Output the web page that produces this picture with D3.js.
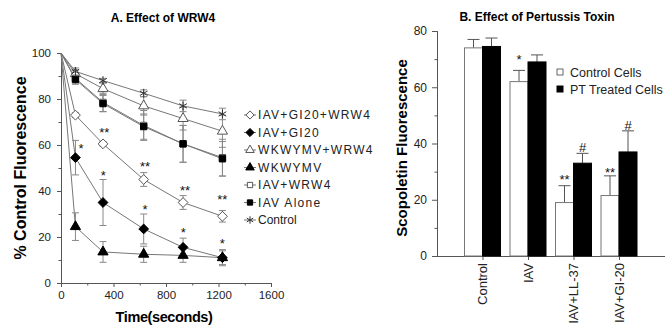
<!DOCTYPE html>
<html>
<head>
<meta charset="utf-8">
<script src="https://cdn.jsdelivr.net/npm/d3@7"></script>
<style>
  body { margin: 0; background: #fff; }
  svg { display: block; font-family: Arial, "Liberation Sans", sans-serif; }
</style>
</head>
<body>
<div id="chart"></div>
<script>
// panel A: time course
const times = [0, 110, 320, 630, 930, 1230]
const seriesNames = ['IAV+GI20+WRW4', 'IAV+GI20', 'WKWYMV+WRW4', 'WKWYMV', 'IAV+WRW4', 'IAV Alone', 'Control']
const gi20Wrw4 = [100, 73, 60.5, 45, 35, 29]
const gi20 = [100, 54.5, 35, 23.5, 15.5, 11]
const wkwymvWrw4 = [100, 91, 84.5, 77, 71.5, 66]
const wkwymv = [100, 24.5, 13.5, 12.5, 12, 11]
const iavWrw4 = [100, 89, 78.5, 68.5, 60.5, 54.5]
const iavAlone = [100, 88.5, 78, 68, 60.5, 54]
const control = [100, 92, 88, 82.5, 77, 73.5]
const gi20Wrw4Err = [0, 1, 1, 3, 3, 2.5]
const gi20Err = [0, 7.5, 10, 6.5, 4, 3.5]
const wkwymvWrw4Err = [0, 1.5, 2.5, 4, 5, 7]
const wkwymvErr = [0, 6, 4.5, 3.5, 3, 3]
const iavWrw4Err = [0, 2.5, 4, 6.5, 8, 8]
const iavAloneErr = [0, 2, 3.5, 5.5, 8, 7.5]
const controlErr = [0, 1.5, 1, 1.5, 2.5, 2.5]
// significance marks: [time, value, text]
const starsA = [[152, 59.6, '*'], [330, 66.5, '**'], [322, 47.7, '*'], [640, 51.6, '**'], [640, 32.9, '*'],
  [945, 41.4, '**'], [932, 23, '*'], [1229, 37.4, '**'], [1229, 18.3, '*']]

// panel B: pertussis toxin
const groups = ['Control', 'IAV', 'IAV+LL-37', 'IAV+GI-20']
const controlCells = [74, 62, 19, 21.5]
const controlCellsErr = [3, 4, 6, 7]
const ptCells = [74.5, 69, 33, 37]
const ptCellsErr = [3, 2.5, 3.5, 7.5]
// [group, bar (0 control / 1 PT), text, value]
const marksB = [[1, 0, '*', 70.8], [2, 0, '**', 28.1], [2, 1, '#', 38.8], [3, 0, '**', 30.6], [3, 1, '#', 46.6]]

const W = 665, H = 331
const svg = d3.select('#chart').append('svg').attr('width', W).attr('height', H)

const axisColor = '#555'
const lineColor = '#777'

function styleAxis (g, fs) {
  g.selectAll('.domain').attr('stroke', axisColor)
  g.selectAll('.tick line').attr('stroke', axisColor)
  g.selectAll('.tick text').attr('fill', '#222').attr('font-size', fs).attr('font-family', 'Arial, "Liberation Sans", sans-serif')
}

// square diamond (rotated square), like the original plotting program
const symbolRhomb = {
  draw (ctx, size) {
    const r = Math.sqrt(size / 2)
    ctx.moveTo(0, -r); ctx.lineTo(r, 0); ctx.lineTo(0, r); ctx.lineTo(-r, 0); ctx.closePath()
  }
}

// ---------- panel A ----------
const xA = d3.scaleLinear().domain([0, 1600]).range([61, 271])
const yA = d3.scaleLinear().domain([0, 100]).range([283, 53])

const gA = svg.append('g')
// minor ticks
gA.append('g').attr('transform', `translate(0,${yA(0)})`)
  .call(d3.axisBottom(xA).tickValues([200, 600, 1000, 1400]).tickSize(2.5).tickFormat(''))
  .call(g => styleAxis(g, 11))
gA.append('g').attr('transform', `translate(${xA(0)},0)`)
  .call(d3.axisLeft(yA).tickValues([10, 30, 50, 70, 90]).tickSize(2.5).tickFormat(''))
  .call(g => styleAxis(g, 11))
gA.append('g').attr('transform', `translate(0,${yA(0)})`)
  .call(d3.axisBottom(xA).tickValues([0, 400, 800, 1200, 1600]).tickFormat(d3.format('d'))
    .tickSize(4).tickPadding(4).tickSizeOuter(0))
  .call(g => styleAxis(g, 11.5))
gA.append('g').attr('transform', `translate(${xA(0)},0)`)
  .call(d3.axisLeft(yA).tickValues([0, 20, 40, 60, 80, 100]).tickSize(4).tickPadding(6).tickSizeOuter(0))
  .call(g => styleAxis(g, 11.5))

const seriesA = [
  { name: seriesNames[0], vals: gi20Wrw4, err: gi20Wrw4Err, type: symbolRhomb, size: 48, fill: '#fff' },
  { name: seriesNames[1], vals: gi20, err: gi20Err, type: symbolRhomb, size: 48, fill: '#000' },
  { name: seriesNames[2], vals: wkwymvWrw4, err: wkwymvWrw4Err, type: d3.symbolTriangle, size: 45, fill: '#fff' },
  { name: seriesNames[3], vals: wkwymv, err: wkwymvErr, type: d3.symbolTriangle, size: 45, fill: '#000' },
  { name: seriesNames[4], vals: iavWrw4, err: iavWrw4Err, type: d3.symbolSquare, size: 40, fill: '#fff' },
  { name: seriesNames[5], vals: iavAlone, err: iavAloneErr, type: d3.symbolSquare, size: 40, fill: '#000' },
  { name: seriesNames[6], vals: control, err: controlErr, type: d3.symbolAsterisk, size: 55, fill: 'none' }
]

const line = d3.line().x(d => xA(d[0])).y(d => yA(d[1]))

// lines first
seriesA.forEach(s => {
  gA.append('path')
    .datum(times.map((t, i) => [t, s.vals[i]]))
    .attr('fill', 'none').attr('stroke', lineColor).attr('stroke-width', 1)
    .attr('d', line)
})
// error bars
seriesA.forEach(s => {
  const eb = gA.append('g').attr('stroke', '#888').attr('stroke-width', 1)
  times.forEach((t, i) => {
    if (!s.err[i]) return
    const x = xA(t), y1 = yA(s.vals[i] + s.err[i]), y2 = yA(s.vals[i] - s.err[i])
    eb.append('line').attr('x1', x).attr('x2', x).attr('y1', y1).attr('y2', y2)
    eb.append('line').attr('x1', x - 3.5).attr('x2', x + 3.5).attr('y1', y1).attr('y2', y1)
    eb.append('line').attr('x1', x - 3.5).attr('x2', x + 3.5).attr('y1', y2).attr('y2', y2)
  })
})
// markers
function drawSymbol (g, s, x, y, scale) {
  const sym = d3.symbol().type(s.type).size(s.size * scale)
  const p = g.append('path').attr('d', sym()).attr('transform', `translate(${x},${y})`)
  if (s.fill === 'none') {
    p.attr('fill', 'none').attr('stroke', '#333').attr('stroke-width', 1)
  } else {
    p.attr('fill', s.fill).attr('stroke', s.fill === '#fff' ? '#555' : '#000').attr('stroke-width', 1)
  }
}
seriesA.forEach(s => {
  times.forEach((t, i) => {
    if (i === 0) return
    drawSymbol(gA, s, xA(t), yA(s.vals[i]), 1)
  })
})
// significance stars
gA.selectAll('.starA').data(starsA).enter().append('text')
  .attr('x', d => xA(d[0])).attr('y', d => yA(d[1]))
  .attr('dy', '0.55em').attr('text-anchor', 'middle')
  .attr('font-size', 13).attr('fill', '#111')
  .text(d => d[2])

// legend A
const legA = gA.append('g')
seriesA.forEach((s, i) => {
  const y = 115 + i * 17.5
  legA.append('line').attr('x1', 244).attr('x2', 256).attr('y1', y).attr('y2', y).attr('stroke', lineColor)
  drawSymbol(legA, s, 250, y, 0.7)
  legA.append('text').attr('x', 258).attr('y', y).attr('dy', '0.36em')
    .attr('font-size', 12).attr('fill', '#222')
    .attr('letter-spacing', s.name === 'Control' ? 0 : 1.3)
    .text(s.name)
})

// titles and labels A
svg.append('text').attr('x', 163).attr('y', 22).attr('text-anchor', 'middle')
  .attr('font-size', 12).attr('font-weight', 'bold').text('A. Effect of WRW4')
svg.append('text').attr('transform', 'translate(26,168) rotate(-90)').attr('text-anchor', 'middle')
  .attr('font-size', 16).attr('font-weight', 'bold').text('% Control Fluorescence')
svg.append('text').attr('x', 164).attr('y', 322).attr('text-anchor', 'middle')
  .attr('font-size', 14.5).attr('font-weight', 'bold').attr('letter-spacing', -0.4).text('Time(seconds)')

// ---------- panel B ----------
const xB = d3.scaleLinear().domain([0, 5]).range([437, 664.5])
const yB = d3.scaleLinear().domain([0, 80]).range([256, 31])
const barW = 18
const gB = svg.append('g')

gB.append('g').attr('transform', `translate(${xB(0)},0)`)
  .call(d3.axisLeft(yB).tickValues([10, 30, 50, 70]).tickSize(2.5).tickFormat(''))
  .call(g => styleAxis(g, 12))
gB.append('g').attr('transform', `translate(${xB(0)},0)`)
  .call(d3.axisLeft(yB).tickValues([0, 20, 40, 60, 80]).tickSize(5).tickPadding(5).tickSizeOuter(0))
  .call(g => styleAxis(g, 12))
gB.append('g').attr('transform', `translate(0,${yB(0)})`)
  .call(d3.axisBottom(xB).tickValues([1, 2, 3, 4]).tickSize(4).tickFormat('').tickSizeOuter(0))
  .call(g => styleAxis(g, 12))

const barsB = [
  { vals: controlCells, err: controlCellsErr, fill: '#fff', off: -barW },
  { vals: ptCells, err: ptCellsErr, fill: '#000', off: 0 }
]
barsB.forEach(b => {
  const g = gB.append('g')
  groups.forEach((name, i) => {
    const x0 = xB(i + 1) + b.off
    const top = yB(b.vals[i] + b.err[i])
    const cx = x0 + barW / 2
    g.append('line').attr('x1', cx).attr('x2', cx).attr('y1', yB(b.vals[i])).attr('y2', top)
      .attr('stroke', '#555')
    g.append('line').attr('x1', cx - 6).attr('x2', cx + 6).attr('y1', top).attr('y2', top)
      .attr('stroke', '#555')
    g.append('rect').attr('x', x0).attr('y', yB(b.vals[i]))
      .attr('width', barW).attr('height', yB(0) - yB(b.vals[i]))
      .attr('fill', b.fill).attr('stroke', b.fill === '#fff' ? '#777' : '#000').attr('stroke-width', 1)
  })
})

gB.selectAll('.markB').data(marksB).enter().append('text')
  .attr('x', d => xB(d[0] + 1) + (d[1] === 0 ? -barW / 2 : barW / 2))
  .attr('y', d => yB(d[3]))
  .attr('dy', d => d[2] === '#' ? '0.36em' : '0.55em')
  .attr('text-anchor', 'middle').attr('font-size', 13).attr('fill', '#111')
  .text(d => d[2])

// category labels
gB.selectAll('.catB').data(groups).enter().append('text')
  .attr('transform', (d, i) => `translate(${xB(i + 1)},263) rotate(-90)`)
  .attr('dy', '0.36em').attr('text-anchor', 'end')
  .attr('font-size', 13).attr('fill', '#222')
  .text(d => d)

// legend B
const legB = [['Control Cells', '#fff'], ['PT Treated Cells', '#000']]
legB.forEach((d, i) => {
  const y = 72 + i * 17
  gB.append('rect').attr('x', 557).attr('y', y - 3).attr('width', 6).attr('height', 6)
    .attr('fill', d[1]).attr('stroke', d[1] === '#fff' ? '#666' : '#000')
  gB.append('text').attr('x', 570).attr('y', y).attr('dy', '0.36em')
    .attr('font-size', 12.5).attr('fill', '#222').text(d[0])
})

svg.append('text').attr('x', 537).attr('y', 21).attr('text-anchor', 'middle')
  .attr('font-size', 12).attr('font-weight', 'bold').text('B. Effect of Pertussis Toxin')
svg.append('text').attr('transform', 'translate(407,148) rotate(-90)').attr('text-anchor', 'middle')
  .attr('font-size', 15).attr('font-weight', 'bold').text('Scopoletin Fluorescence')
</script>
</body>
</html>
